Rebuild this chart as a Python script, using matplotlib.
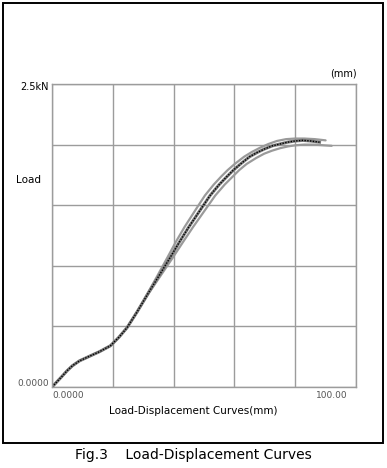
import matplotlib
matplotlib.use("Agg")
import matplotlib.pyplot as plt
from matplotlib.patches import Rectangle

W, H = 387, 468

# central (dark dotted) curve, displacement in mm, load in kN
disp_mid = [0, 1.5, 3, 5, 6.7, 9, 12, 15.5, 19.2, 22, 24.7, 28, 31.8, 35, 38.9, 42, 45,
            49.3, 52, 55, 57.5, 59.7, 62, 65, 67.5, 70, 72.5, 75, 77.5, 80, 82.5, 85, 88]
load_mid = [0, 0.04, 0.08, 0.135, 0.175, 0.215, 0.25, 0.29, 0.34, 0.41, 0.49, 0.62, 0.78,
            0.91, 1.07, 1.20, 1.32, 1.48, 1.58, 1.67, 1.735, 1.79, 1.84, 1.90, 1.935, 1.965,
            1.99, 2.005, 2.02, 2.03, 2.035, 2.03, 2.02]

# gray band curves (upper / lower edge of the band)
disp_a = [0, 1.5, 3, 5, 6.7, 9, 12, 15.5, 19.2, 22, 24.7, 28, 31.6, 34.5, 38.0, 40.8, 43.6,
          47.7, 50.3, 53.2, 55.6, 57.8, 60.1, 63.2, 65.8, 68.5, 71.2, 74, 77, 80, 83, 86.5, 90]
load_a = [0, 0.04, 0.08, 0.135, 0.175, 0.215, 0.25, 0.29, 0.34, 0.41, 0.49, 0.62, 0.78,
          0.91, 1.07, 1.20, 1.32, 1.48, 1.58, 1.67, 1.735, 1.79, 1.84, 1.90, 1.94, 1.975,
          2.005, 2.03, 2.045, 2.05, 2.05, 2.045, 2.035]
disp_b = [0, 1.5, 3, 5, 6.7, 9, 12, 15.5, 19.2, 22, 24.7, 28, 32.0, 35.5, 39.8, 43.2, 46.4,
          50.9, 53.7, 56.8, 59.4, 61.6, 64.0, 67.2, 69.8, 72.4, 75, 77.6, 80.2, 83, 86, 89, 92]
load_b = [0, 0.04, 0.08, 0.135, 0.175, 0.215, 0.25, 0.29, 0.34, 0.41, 0.49, 0.62, 0.78,
          0.91, 1.07, 1.20, 1.32, 1.48, 1.58, 1.67, 1.735, 1.79, 1.84, 1.89, 1.925, 1.95,
          1.97, 1.985, 1.995, 2.0, 2.0, 1.995, 1.99]

x_ticks = [0, 20, 40, 60, 80, 100]
y_ticks = [0, 0.5, 1.0, 1.5, 2.0, 2.5]

fig = plt.figure(figsize=(W / 100, H / 100), dpi=100)
ax = fig.add_axes([52 / W, 1 - 387 / H, 304 / W, 303 / H])

ax.plot(disp_a, load_a, color="#9a9a9a", lw=1.6, solid_capstyle="round")
ax.plot(disp_b, load_b, color="#9a9a9a", lw=1.6, solid_capstyle="round")
ax.plot(disp_mid, load_mid, color="#7a7a7a", lw=2.2)
ax.plot(disp_mid, load_mid, color="black", lw=1.0, ls=(0, (1, 1)))

ax.set_xlim(0, 100)
ax.set_ylim(0, 2.5)
ax.set_xticks(x_ticks)
ax.set_yticks(y_ticks)
ax.grid(True, color="#9c9c9c", lw=1.0)
ax.tick_params(length=0, labelbottom=False, labelleft=False)
for s in ax.spines.values():
    s.set_color("#9c9c9c")
    s.set_linewidth(1.0)
ax.set_axisbelow(True)


def ftext(x, y, s, **kw):
    fig.text(x / W, 1 - y / H, s, va="center", **kw)


ftext(49, 87, "2.5kN", ha="right", fontsize=7)
ftext(16, 180, "Load", ha="left", fontsize=7.5)
ftext(49, 383, "0.0000", ha="right", fontsize=6.5, color="#555555")
ftext(52, 396, "0.0000", ha="left", fontsize=6.5, color="#555555")
ftext(348, 396, "100.00", ha="right", fontsize=6.5, color="#555555")
ftext(357, 73, "(mm)", ha="right", fontsize=7)
ftext(193, 411, "Load-Displacement Curves(mm)", ha="center", fontsize=7.5)
ftext(193, 455, "Fig.3    Load-Displacement Curves", ha="center", fontsize=10)

fig.patches.append(Rectangle((3 / W, 1 - 443 / H), 380 / W, 440 / H,
                             transform=fig.transFigure, fill=False,
                             edgecolor="black", lw=1.4))

fig.savefig("out.png", dpi=100)
